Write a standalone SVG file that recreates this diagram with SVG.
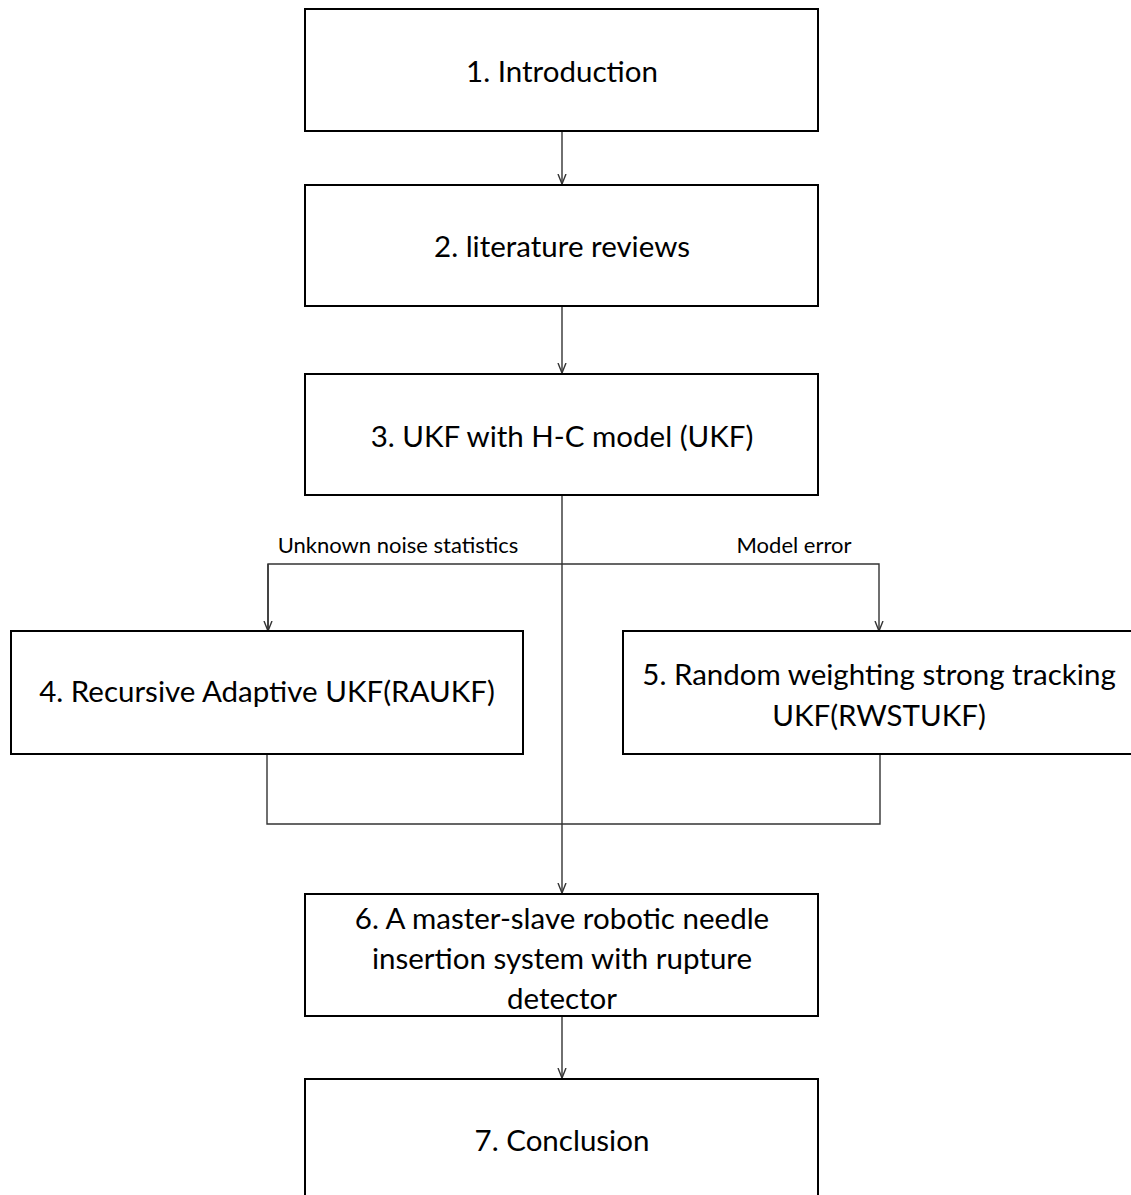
<svg xmlns="http://www.w3.org/2000/svg" width="1131" height="1195" viewBox="0 0 1131 1195">
<style>
.box{fill:#fff;stroke:#000;stroke-width:2}
.t{font-family:Lato,"Open Sans","Liberation Sans",sans-serif;font-size:29.5px;fill:#000;text-anchor:middle;dominant-baseline:central}
.l{font-family:Lato,"Open Sans","Liberation Sans",sans-serif;font-size:22px;fill:#000;text-anchor:middle;dominant-baseline:central}
.c{fill:none;stroke:#333;stroke-width:1.4}
</style>
<defs>
<marker id="arr" viewBox="0 0 10 10" refX="10" refY="5" markerWidth="10" markerHeight="10" markerUnits="userSpaceOnUse" orient="auto">
<path d="M0,1 L10,5 L0,9" fill="none" stroke="#333" stroke-width="1.4"/>
</marker>
</defs>
<rect width="1131" height="1195" fill="#fff"/>
<g id="connectors">
<line class="c" x1="562" y1="131" x2="562" y2="184" marker-end="url(#arr)"/>
<line class="c" x1="562" y1="306" x2="562" y2="373" marker-end="url(#arr)"/>
<line class="c" x1="562" y1="495" x2="562" y2="893" marker-end="url(#arr)"/>
<polyline class="c" points="268,631 268,564 879,564 879,631" marker-end="url(#arr)"/>
<line class="c" x1="268" y1="564" x2="268" y2="631" marker-end="url(#arr)"/>
<polyline class="c" points="267,754 267,824 880,824 880,754"/>
<line class="c" x1="562" y1="1016" x2="562" y2="1078" marker-end="url(#arr)"/>
<text class="l" x="398" y="544">Unknown noise statistics</text>
<text class="l" x="794" y="544">Model error</text>
</g>
<g id="n1"><rect class="box" x="305" y="9" width="513" height="122"/><text class="t" x="562" y="70.5">1. Introduction</text></g>
<g id="n2"><rect class="box" x="305" y="185" width="513" height="121"/><text class="t" x="562" y="245.5">2. literature reviews</text></g>
<g id="n3"><rect class="box" x="305" y="374" width="513" height="121"/><text class="t" x="562" y="435.5">3. UKF with H-C model (UKF)</text></g>
<g id="n4"><rect class="box" x="11" y="631" width="512" height="123"/><text class="t" x="267" y="690.5">4. Recursive Adaptive UKF(RAUKF)</text></g>
<g id="n5"><rect class="box" x="623" y="631" width="512" height="123"/><text class="t" x="879" y="673.5">5. Random weighting strong tracking</text><text class="t" x="879" y="714.5">UKF(RWSTUKF)</text></g>
<g id="n6"><rect class="box" x="305" y="894" width="513" height="122"/><text class="t" x="562" y="917">6. A master-slave robotic needle</text><text class="t" x="562" y="957">insertion system with rupture</text><text class="t" x="562" y="997">detector</text></g>
<g id="n7"><rect class="box" x="305" y="1079" width="513" height="130"/><text class="t" x="562" y="1139.5">7. Conclusion</text></g>
</svg>
